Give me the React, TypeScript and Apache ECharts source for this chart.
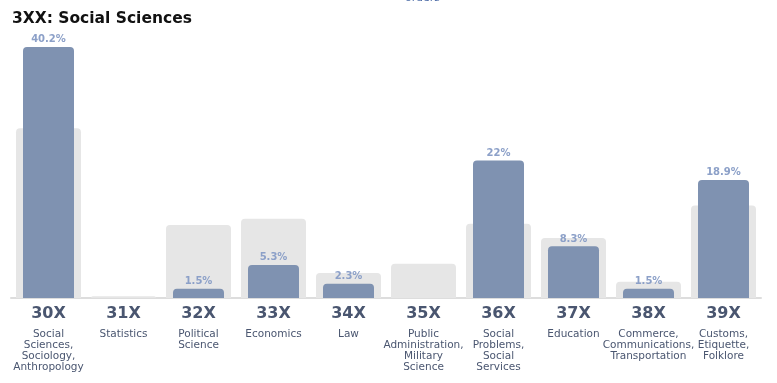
import React, { useEffect, useRef } from "react";
import * as echarts from "echarts";

const codes = ["30X", "31X", "32X", "33X", "34X", "35X", "36X", "37X", "38X", "39X"];
const descriptions = [
  "Social\nSciences,\nSociology,\nAnthropology",
  "Statistics",
  "Political\nScience",
  "Economics",
  "Law",
  "Public\nAdministration,\nMilitary\nScience",
  "Social\nProblems,\nSocial\nServices",
  "Education",
  "Commerce,\nCommunications,\nTransportation",
  "Customs,\nEtiquette,\nFolklore",
];
const shareValues = [40.2, 0, 1.5, 5.3, 2.3, 0, 22, 8.3, 1.5, 18.9];
const baselineValues = [27.2, 0.3, 11.7, 12.7, 4.0, 5.5, 11.9, 9.6, 2.6, 14.8];

const titleText = "3XX: Social Sciences";
const topText = "orders";

export default function App() {
  const ref = useRef<HTMLDivElement>(null);
  useEffect(() => {
    if (!ref.current) return;
    const chart = echarts.init(ref.current, null, { renderer: "svg" });
    const font = "'DejaVu Sans', Verdana, sans-serif";
    chart.setOption({
      animation: false,
      title: {
        text: titleText,
        left: 7,
        top: 5,
        textStyle: { fontFamily: font, fontWeight: "bold", fontSize: 15.5, color: "#111" },
      },
      graphic: [
        {
          type: "text",
          left: 405,
          top: -8,
          style: { text: topText, fontFamily: font, fontSize: 11, fill: "#4f6ea8" },
        },
      ],
      grid: { left: 11, right: 16, top: 17, bottom: 85, containLabel: false },
      xAxis: [
        {
          type: "category",
          data: codes,
          axisTick: { show: false },
          axisLine: { lineStyle: { color: "#dddddd", width: 2 } },
          axisLabel: {
            interval: 0,
            margin: 0,
            formatter: (v: string, i: number) => `{code|${v}}\n` + descriptions[i].split("\n").map((l) => `{desc|${l}}`).join("\n"),
            rich: {
              code: { fontFamily: font, fontWeight: "bold", fontSize: 16, color: "#4a5670", lineHeight: 29 },
              desc: { fontFamily: font, fontSize: 10.5, color: "#4a5670", lineHeight: 11 },
            },
          },
        },
        { type: "category", data: codes, show: false },
      ],
      yAxis: { type: "value", min: 0, max: 45, show: false, splitLine: { show: false } },
      series: [
        {
          type: "bar",
          xAxisIndex: 0,
          data: baselineValues,
          barWidth: 65,
          itemStyle: { color: "#e6e6e6", borderRadius: [4, 4, 0, 0] },
          silent: true,
        },
        {
          type: "bar",
          xAxisIndex: 1,
          data: shareValues,
          barWidth: 51,
          itemStyle: { color: "#7f92b1", borderRadius: [4, 4, 0, 0] },
          label: {
            show: true,
            position: "top",
            distance: 3,
            fontFamily: font,
            fontWeight: "bold",
            fontSize: 10,
            color: "#8ca0c8",
            formatter: (p: any) => (p.value ? `${p.value}%` : ""),
          },
        },
      ],
    });
    return () => chart.dispose();
  }, []);
  return <div ref={ref} style={{ position: "fixed", left: 0, top: 0, width: 777, height: 383 }} />;
}
